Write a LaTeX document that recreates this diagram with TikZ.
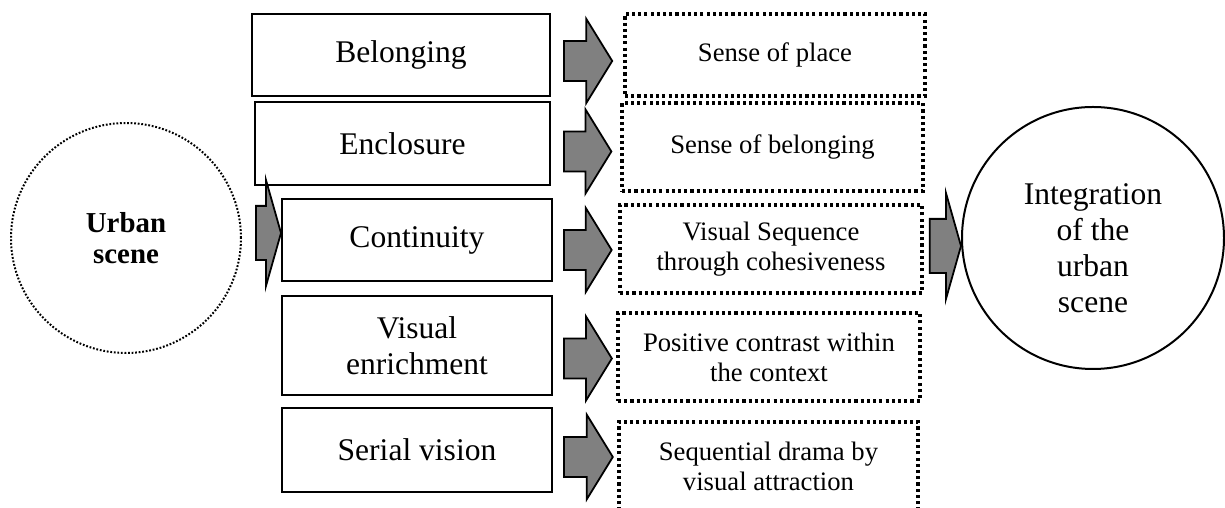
\documentclass[tikz,border=0pt]{standalone}
\usepackage{fontspec}
\setmainfont{Liberation Serif}
\usetikzlibrary{calc,positioning}
\definecolor{arrowgray}{HTML}{808080}
\newcommand{\bigtxt}{\fontsize{14.2}{16.3}\selectfont}
\newcommand{\smalltxt}{\fontsize{12}{13.5}\selectfont}

\begin{document}
\begin{tikzpicture}[x=0.45pt, y=-0.45pt,
	factor/.style={draw, line width=0.9pt, inner sep=0pt, align=center, font=\bigtxt},
	effect/.style={draw, line width=1.5pt, dash pattern=on 1.4pt off 1.4pt, inner sep=0pt, align=center, font=\smalltxt},
	blockarr/.style n args={3}{fill=arrowgray, draw, line width=0.8pt, line join=miter,
		to path={let \p1=(\tikztostart), \p2=(\tikztotarget) in
			(\x1,{\y1-#1}) -- ({\x2-#3},{\y1-#1}) -- ({\x2-#3},{\y1-#2}) -- (\x2,\y1)
			-- ({\x2-#3},{\y1+#2}) -- ({\x2-#3},{\y1+#1}) -- (\x1,{\y1+#1}) -- cycle}},
	smallarr/.style={blockarr={9pt}{19pt}{11.7pt}},
	widearr/.style={blockarr={12.2pt}{24pt}{6.8pt}}]
	\path[use as bounding box, clip] (0,0) rectangle (1225,508);

	% scene and result
	\node[circle, draw, line width=0.9pt, dash pattern=on 0.8pt off 0.8pt, minimum size=103.5pt,
		align=center, font=\fontsize{13}{14}\selectfont\bfseries] (urban) at (126,238) {Urban\\scene};
	\node[circle, draw, line width=0.9pt, minimum size=117.9pt,
		label={[align=center, font=\fontsize{14.2}{16.2}\selectfont, yshift=-4.5pt]center:Integration\\of the\\urban\\scene}]
		(integ) at (1093,238) {};

	% principles
	\node[factor, minimum width=134.1pt, minimum height=36.9pt] (belonging) at (401,55) {Belonging};
	\node[factor, minimum width=132.8pt, minimum height=37.4pt] (enclosure) at (402.5,143.5) {Enclosure};
	\node[factor, minimum width=121.5pt, minimum height=36.9pt] (continuity) at (417,240) {Continuity};
	\node[factor, minimum width=121.5pt, minimum height=44.6pt] (enrich) at (417,345.5) {Visual\\enrichment};
	\node[factor, minimum width=121.5pt, minimum height=37.8pt] (serial) at (417,450) {Serial vision};

	% outcomes
	\node[effect, minimum width=135pt, minimum height=36.9pt] (place) at (775,55) {Sense of place};
	\node[effect, minimum width=135.5pt, minimum height=39.6pt] (sensebel) at (772.5,147) {Sense of belonging};
	\node[effect, minimum width=135.9pt, minimum height=39.6pt] (sequence) at (771,249) {Visual Sequence\\through cohesiveness};
	\node[effect, minimum width=135.9pt, minimum height=39.6pt] (contrast) at (769,357) {Positive contrast within\\the context};
	\node[effect, minimum width=134.6pt, minimum height=39.6pt] (drama) at (768.5,466) {Sequential drama by\\visual attraction};

	\draw[widearr] ([shift={(14,-5)}]urban.east) to (continuity.west);
	\draw[smallarr] ([shift={(13,6)}]belonging.east) to ([xshift=-5pt]place.west);
	\draw[smallarr] ([shift={(13,8)}]enclosure.east) to ([xshift=-4pt]sensebel.west);
	\draw[smallarr] ([shift={(11,10)}]continuity.east) to ([xshift=-3pt]sequence.west);
	\draw[smallarr] ([shift={(11,13)}]enrich.east) to ([xshift=-2pt]contrast.west);
	\draw[smallarr] ([shift={(11,7)}]serial.east) to ([xshift=-2pt]drama.west);
	\draw[widearr] ([shift={(6,-3)}]sequence.east) to (integ.west);
\end{tikzpicture}
\end{document}
